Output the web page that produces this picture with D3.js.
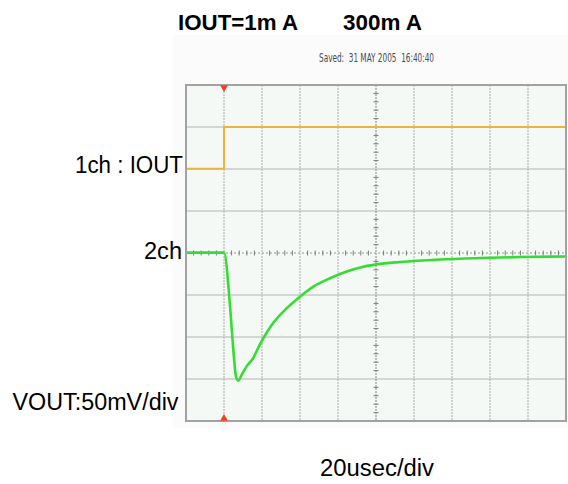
<!DOCTYPE html>
<html>
<head>
<meta charset="utf-8">
<script src="https://cdn.jsdelivr.net/npm/d3@7"></script>
<style>
  html, body { margin: 0; padding: 0; background: #ffffff; }
  svg { display: block; }
  text { white-space: pre; }
</style>
</head>
<body>
<svg id="chart" width="568" height="484"></svg>
<script>
// Load-transient capture: IOUT step 1 mA -> 300 mA, VOUT response on ch2.
const titleLeft = "IOUT=1m A";
const titleRight = "300m A";
const savedStamp = "Saved:  31 MAY 2005  16:40:40";
const ch1Label = "1ch : IOUT";
const ch2Label = "2ch";
const voltLabel = "VOUT:50mV/div";
const timeLabel = "20usec/div";

// Screen settings: 10 time divisions, 8 vertical divisions
const timeTicks = [-20, 0, 20, 40, 60, 80, 100, 120, 140, 160, 180];      // µs
const voltTicks = [-200, -150, -100, -50, 0, 50, 100, 150, 200];            // mV (ch2)
const currentDomain = [-1800, 600];                                          // mA (ch1, 300 mA/div)

// ch1: output current step (mA)
const ch1Time = [-20, 0, 0, 180];
const ch1Current = [1, 1, 300, 300];

// ch2: output voltage deviation (mV)
const ch2Time = [-20, -10, 0, 3.2, 4.9, 6.3, 7.5, 9.3, 11.9, 15.4, 18, 20.7, 25.1, 33, 40, 47, 55.8, 64.6, 73.3, 80.4, 92.6, 113.7, 134.7, 155.8, 180];
const ch2Vout = [0.5, 0.5, 0.5, -64, -115, -147, -152, -145, -135, -125, -113, -101.5, -85.7, -65.8, -52, -40, -30, -22, -16.3, -13.5, -10.7, -7.7, -6, -4.8, -4.2];

const svg = d3.select("#chart");
const plotL = 186, plotR = 566, plotT = 85, plotB = 421;

const x = d3.scaleLinear().domain([timeTicks[0], timeTicks[timeTicks.length - 1]]).range([plotL, plotR]);
const yV = d3.scaleLinear().domain([voltTicks[0], voltTicks[voltTicks.length - 1]]).range([plotB, plotT]);
const yI = d3.scaleLinear().domain(currentDomain).range([plotB, plotT]);

// faint frame of the scope screen capture
svg.append("rect").attr("x", 173).attr("y", 35).attr("width", 395).attr("height", 393)
  .attr("fill", "#fbfbfb");

// graticule background
svg.append("rect").attr("x", plotL).attr("y", plotT).attr("width", plotR - plotL).attr("height", plotB - plotT)
  .attr("fill", "#f5f9f5");

// horizontal division lines
svg.append("g").selectAll("line").data(voltTicks.slice(1, -1)).join("line")
  .attr("x1", plotL).attr("x2", plotR)
  .attr("y1", d => yV(d)).attr("y2", d => yV(d))
  .attr("stroke", d => d === 0 ? "#9a9a9a" : "#b4b4b4")
  .attr("stroke-width", 1.2)
  .attr("stroke-dasharray", d => d === 0 ? "2,2" : null);

// vertical division lines
svg.append("g").selectAll("line").data(timeTicks.slice(1, -1)).join("line")
  .attr("x1", d => x(d)).attr("x2", d => x(d))
  .attr("y1", plotT).attr("y2", plotB)
  .attr("stroke", d => d === 80 ? "#9a9a9a" : "#b8b8b8")
  .attr("stroke-width", 1.2)
  .attr("stroke-dasharray", "2,1");

// minor ticks along the centre axes
const minorT = d3.range(timeTicks[0], timeTicks[timeTicks.length - 1], 4).filter(t => (t - timeTicks[0]) % 20 !== 0);
svg.append("g").selectAll("line").data(minorT).join("line")
  .attr("x1", d => x(d)).attr("x2", d => x(d))
  .attr("y1", yV(0) - 2.5).attr("y2", yV(0) + 2.5)
  .attr("stroke", "#7a7a7a").attr("stroke-width", 1);
const minorV = d3.range(voltTicks[0], voltTicks[voltTicks.length - 1], 10).filter(v => (v - voltTicks[0]) % 50 !== 0);
svg.append("g").selectAll("line").data(minorV).join("line")
  .attr("x1", x(80) - 2.5).attr("x2", x(80) + 2.5)
  .attr("y1", d => yV(d)).attr("y2", d => yV(d))
  .attr("stroke", "#7a7a7a").attr("stroke-width", 1);

// ch1 trace
const ch1 = ch1Time.map((t, i) => [t, ch1Current[i]]);
svg.append("path").datum(ch1)
  .attr("d", d3.line().x(d => x(d[0])).y(d => yI(d[1])))
  .attr("fill", "none").attr("stroke", "#eeb33a").attr("stroke-width", 2);

// ch2 trace
const ch2 = ch2Time.map((t, i) => [t, ch2Vout[i]]);
svg.append("path").datum(ch2)
  .attr("d", d3.line().curve(d3.curveMonotoneX).x(d => x(d[0])).y(d => yV(d[1])))
  .attr("fill", "none").attr("stroke", "#35dc35").attr("stroke-width", 2.6)
  .attr("stroke-linejoin", "round");

// graticule border
svg.append("rect").attr("x", plotL).attr("y", plotT).attr("width", plotR - plotL).attr("height", plotB - plotT)
  .attr("fill", "none").attr("stroke", "#a2a2a2").attr("stroke-width", 2);

// trigger position markers
const tri = d3.symbol().type(d3.symbolTriangle).size(26);
svg.append("path").attr("d", tri())
  .attr("transform", `translate(${x(0)},${plotT + 2.5}) rotate(180)`).attr("fill", "#ff3a1a");
svg.append("path").attr("d", tri())
  .attr("transform", `translate(${x(0)},${plotB - 2.5})`).attr("fill", "#ff3a1a");

// texts
const sans = "Arial, 'Liberation Sans', Helvetica, sans-serif";
svg.append("text").attr("x", 178).attr("y", 30).text(titleLeft)
  .attr("font-family", sans).attr("font-weight", "bold").attr("font-size", 22)
  .attr("textLength", 120).attr("lengthAdjust", "spacingAndGlyphs").attr("fill", "#000");
svg.append("text").attr("x", 343).attr("y", 30).text(titleRight)
  .attr("font-family", sans).attr("font-weight", "bold").attr("font-size", 22)
  .attr("textLength", 79).attr("lengthAdjust", "spacingAndGlyphs").attr("fill", "#000");
svg.append("text").attr("x", 319).attr("y", 62).text(savedStamp)
  .attr("font-family", "'Liberation Sans Narrow', 'DejaVu Sans Condensed', " + sans).attr("font-size", 12)
  .attr("textLength", 115).attr("lengthAdjust", "spacingAndGlyphs").attr("fill", "#4a4a4a");
svg.append("text").attr("x", 75).attr("y", 173).text(ch1Label)
  .attr("font-family", sans).attr("font-size", 23)
  .attr("textLength", 108).attr("lengthAdjust", "spacingAndGlyphs").attr("fill", "#000");
svg.append("text").attr("x", 144).attr("y", 259).text(ch2Label)
  .attr("font-family", sans).attr("font-size", 23)
  .attr("textLength", 38).attr("lengthAdjust", "spacingAndGlyphs").attr("fill", "#000");
svg.append("text").attr("x", 12.5).attr("y", 410).text(voltLabel)
  .attr("font-family", sans).attr("font-size", 23)
  .attr("textLength", 166).attr("lengthAdjust", "spacingAndGlyphs").attr("fill", "#000");
svg.append("text").attr("x", 320).attr("y", 476).text(timeLabel)
  .attr("font-family", sans).attr("font-size", 23)
  .attr("textLength", 114).attr("lengthAdjust", "spacingAndGlyphs").attr("fill", "#000");
</script>
</body>
</html>
